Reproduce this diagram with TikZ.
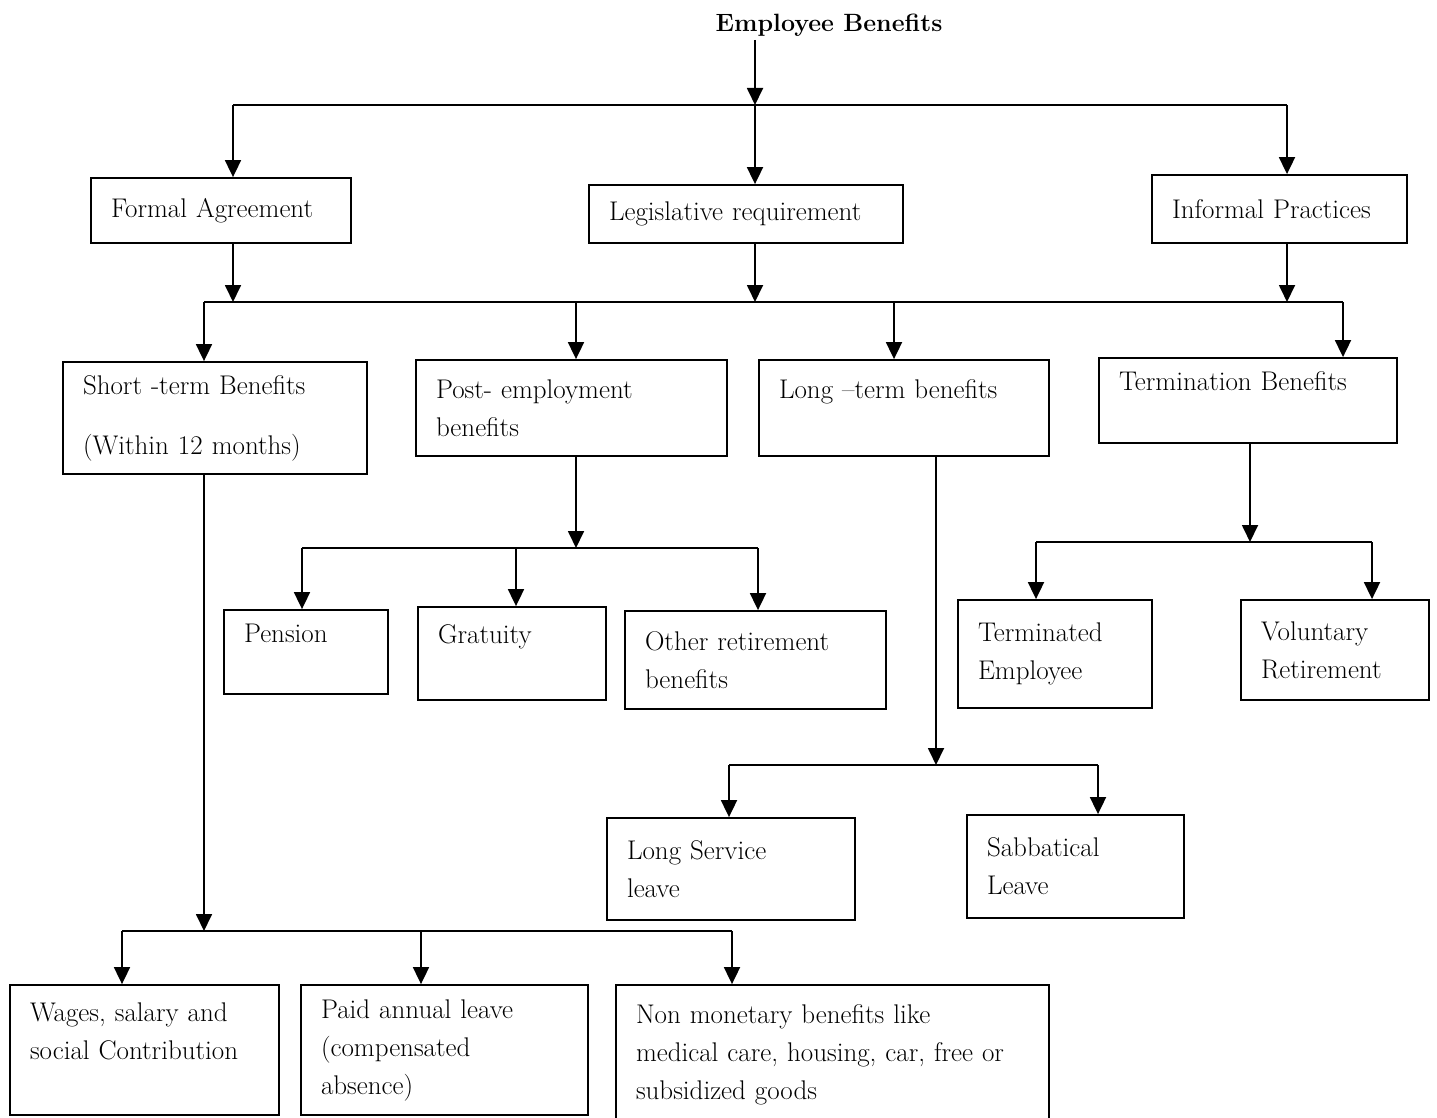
\documentclass[tikz,border=0pt]{standalone}
\usepackage{fontspec}
\usepackage{tikz}
\usetikzlibrary{arrows.meta,positioning,calc}

\begin{document}
\begin{tikzpicture}[x=1pt,y=-1pt,
  font=\fontsize{27pt}{38pt}\selectfont,
  box/.style={draw, rectangle, line width=1.8pt, align=left, inner xsep=20pt, inner ysep=4pt},
  link/.style={line width=1.8pt},
  arr/.style={line width=1.8pt, -{Triangle[width=16pt,length=17pt]}}]
\useasboundingbox (0,0) rectangle (1437,1118);

% Title and first level
\node[font=\fontsize{25pt}{38pt}\selectfont\bfseries] (title) at (829,25) {Employee Benefits};
\node[box, text width=220pt, minimum height=65pt] (formal) at (221,210.5) {Formal Agreement};
\node[box, text width=274pt, minimum height=58pt] (legis) at (746,214) {Legislative requirement};
\node[box, text width=215pt, minimum height=68pt] (informal) at (1279.5,209) {Informal Practices};

\coordinate (b1l) at (233,105);
\coordinate (b1m) at (755,105);
\coordinate (b1r) at (1287,105);
\draw[arr] (title.south -| b1m) -- (b1m);
\draw[link] (b1l) -- (b1r);
\draw[arr] (b1l) -- (b1l |- formal.north);
\draw[arr] (b1m) -- (b1m |- legis.north);
\draw[arr] (b1r) -- (b1r |- informal.north);

% Benefit types
\node[box, text width=264pt, minimum height=112pt] (short) at (215,418) {Short -term Benefits\\[22pt](Within 12 months)};
\node[box, text width=271pt, minimum height=96pt] (post) at (571.5,408) {Post- employment\\benefits};
\node[box, text width=250pt, minimum height=96pt] (long) at (904,408) {Long --term benefits\\\mbox{}};
\node[box, text width=258pt, minimum height=85pt] (term) at (1248,400.5) {Termination Benefits\\\mbox{}};

\coordinate (b2l) at (204,302);
\coordinate (b2a) at (576,302);
\coordinate (b2b) at (894,302);
\coordinate (b2r) at (1343,302);
\draw[arr] (formal.south -| b1l) -- (b1l |- b2l);
\draw[arr] (legis.south -| b1m) -- (b1m |- b2l);
\draw[arr] (informal.south -| b1r) -- (b1r |- b2l);
\draw[link] (b2l) -- (b2r);
\draw[arr] (b2l) -- (b2l |- short.north);
\draw[arr] (b2a) -- (b2a |- post.north);
\draw[arr] (b2b) -- (b2b |- long.north);
\draw[arr] (b2r) -- (b2r |- term.north);

% Post-employment benefits
\node[box, text width=124pt, minimum height=84pt] (pension) at (306,652) {Pension\\\mbox{}};
\node[box, text width=148pt, minimum height=93pt] (gratuity) at (512,653.5) {Gratuity\\\mbox{}};
\node[box, text width=221pt, minimum height=98pt] (other) at (755.5,660) {Other retirement\\benefits};

\coordinate (b3l) at (302,548);
\coordinate (b3c) at (516,548);
\coordinate (b3m) at (576,548);
\coordinate (b3r) at (758,548);
\draw[arr] (post.south -| b3m) -- (b3m);
\draw[link] (b3l) -- (b3r);
\draw[arr] (b3l) -- (b3l |- pension.north);
\draw[arr] (b3c) -- (b3c |- gratuity.north);
\draw[arr] (b3r) -- (b3r |- other.north);

% Termination benefits
\node[box, text width=154pt, minimum height=108pt] (termemp) at (1055,654) {Terminated\\Employee};
\node[box, text width=148pt, minimum height=100pt] (volret) at (1335,650) {Voluntary\\Retirement};

\coordinate (b4l) at (1036,542);
\coordinate (b4m) at (1250,542);
\coordinate (b4r) at (1372,542);
\draw[arr] (term.south -| b4m) -- (b4m);
\draw[link] (b4l) -- (b4r);
\draw[arr] (b4l) -- (b4l |- termemp.north);
\draw[arr] (b4r) -- (b4r |- volret.north);

% Long-term benefits
\node[box, text width=208pt, minimum height=102pt] (longserv) at (731,869) {Long Service\\leave};
\node[box, text width=177pt, minimum height=103pt] (sabb) at (1075.5,866.5) {Sabbatical\\Leave};

\coordinate (b5l) at (729,765);
\coordinate (b5m) at (936,765);
\coordinate (b5r) at (1098,765);
\draw[arr] (long.south -| b5m) -- (b5m);
\draw[link] (b5l) -- (b5r);
\draw[arr] (b5l) -- (b5l |- longserv.north);
\draw[arr] (b5r) -- (b5r |- sabb.north);

% Short-term benefits
\node[box, text width=229pt, minimum height=130pt] (wages) at (144.5,1050) {Wages, salary and\\social Contribution\\\mbox{}};
\node[box, text width=247pt, minimum height=130pt] (paid) at (444.5,1050) {Paid annual leave\\(compensated\\absence)};
\node[box, text width=393pt, minimum height=140pt] (nonmon) at (832.5,1055) {Non monetary benefits like\\medical care, housing, car, free or\\subsidized goods};

\coordinate (b6l) at (122,931);
\coordinate (b6m) at (204,931);
\coordinate (b6c) at (421,931);
\coordinate (b6r) at (732,931);
\draw[arr] (short.south -| b6m) -- (b6m);
\draw[link] (b6l) -- (b6r);
\draw[arr] (b6l) -- (b6l |- wages.north);
\draw[arr] (b6c) -- (b6c |- paid.north);
\draw[arr] (b6r) -- (b6r |- nonmon.north);
\end{tikzpicture}
\end{document}
